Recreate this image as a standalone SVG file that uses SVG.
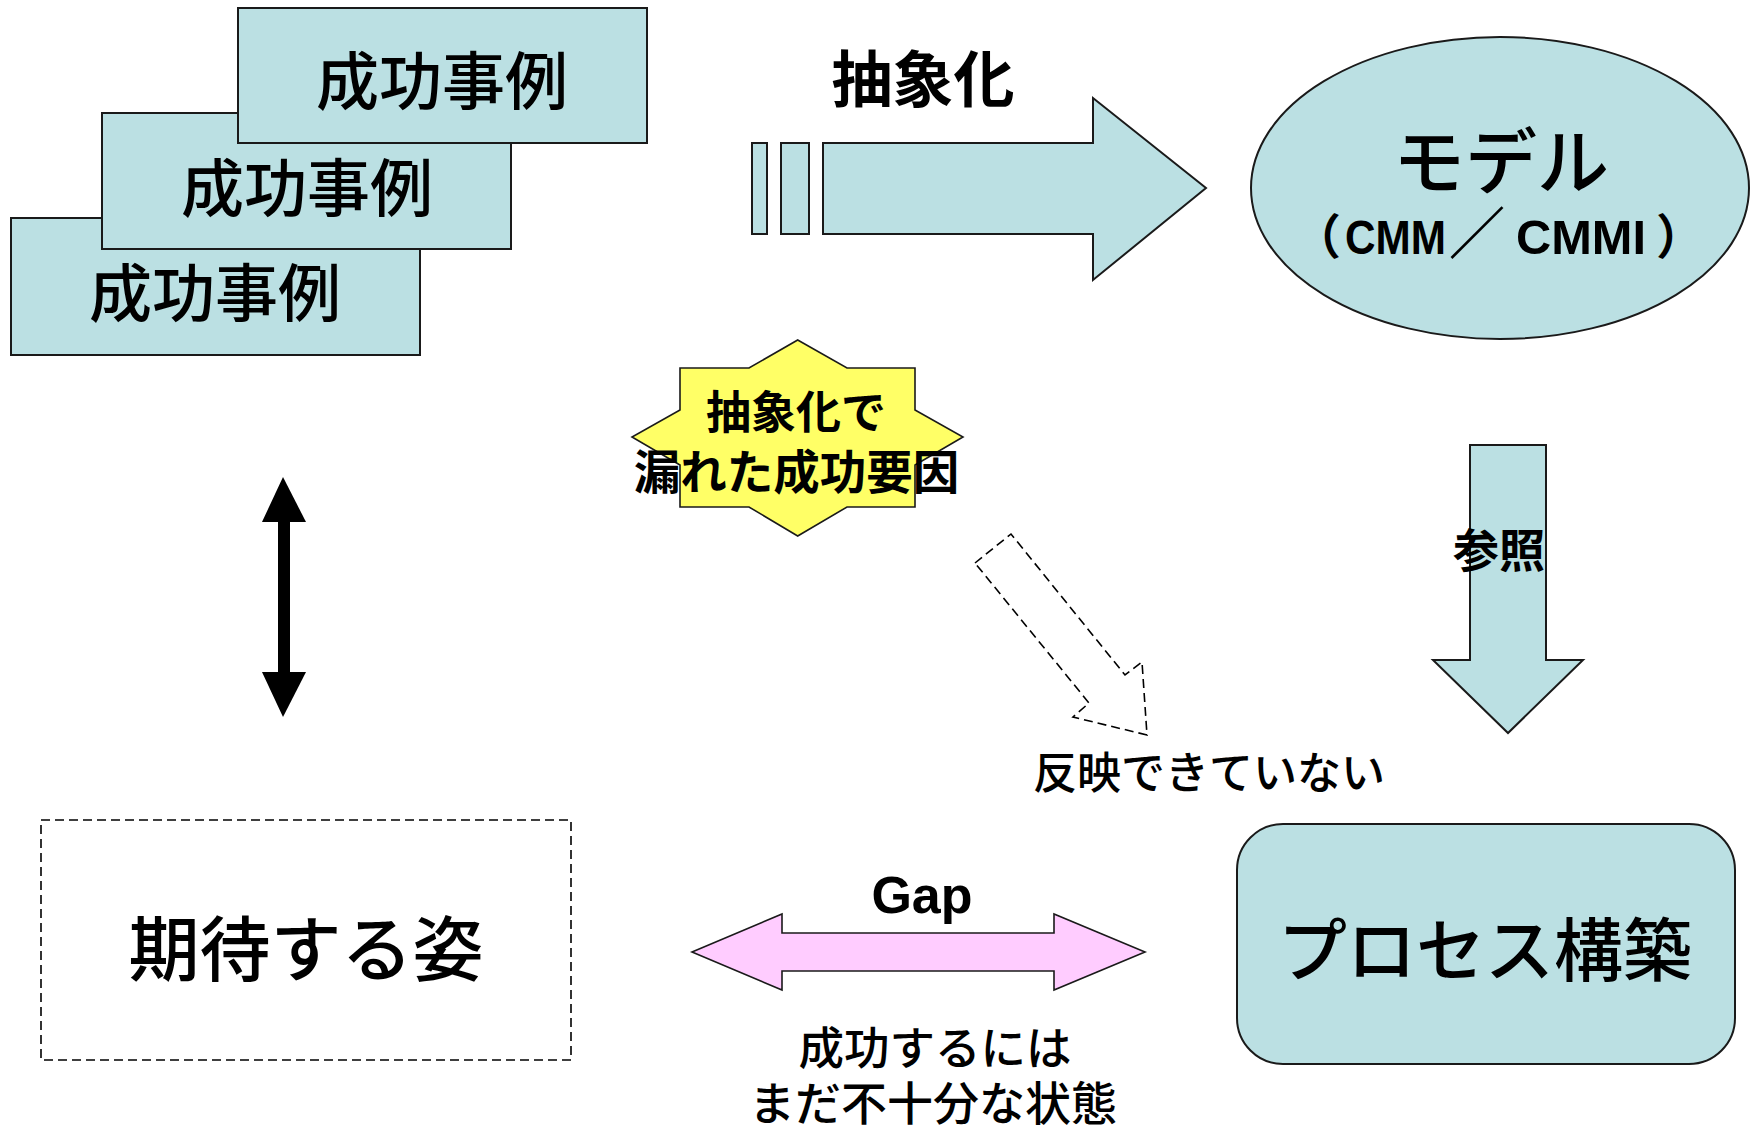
<svg xmlns="http://www.w3.org/2000/svg" width="1756" height="1128" viewBox="0 0 1756 1128">
<defs>
<style>
.blue{fill:#BBE0E3;stroke:#1a1a1a;stroke-width:2}
.jp{font-family:"Noto Sans CJK JP","Noto Sans CJK SC",sans-serif;fill:#000;text-anchor:middle}
.med{font-weight:500}
.bold{font-weight:700}
.lat{font-family:"Liberation Sans","Noto Sans CJK JP",sans-serif;font-weight:700;fill:#000;text-anchor:middle}
.cm{font-family:"Liberation Sans","Noto Sans CJK JP",sans-serif;font-weight:700;fill:#000;font-size:48px}
.dash{fill:none;stroke:#000;stroke-width:1.6;stroke-dasharray:9,5}
</style>
</defs>
<rect width="1756" height="1128" fill="#fff"/>

<g id="case3">
<rect class="blue" x="11" y="218" width="409" height="137"/>
<text class="jp med" x="215" y="316" font-size="63">成功事例</text>
</g>
<g id="case2">
<rect class="blue" x="102" y="113" width="409" height="136"/>
<text class="jp med" x="307" y="211" font-size="63">成功事例</text>
</g>
<g id="case1">
<rect class="blue" x="238" y="8" width="409" height="135"/>
<text class="jp med" x="442" y="104" font-size="63">成功事例</text>
</g>

<g id="model">
<ellipse class="blue" cx="1500" cy="188" rx="249" ry="151" stroke-width="1.6"/>
<text class="jp med" x="1501" y="188" font-size="72">モデル</text>
<text class="cm" y="254"><tspan x="1293">（</tspan><tspan x="1345" textLength="101" lengthAdjust="spacingAndGlyphs">CMM</tspan><tspan x="1449" font-size="56">／</tspan><tspan x="1516" textLength="130" lengthAdjust="spacingAndGlyphs">CMMI</tspan><tspan x="1656">）</tspan></text>
</g>

<g id="leak">
<polygon points="797.7,340 847,368 915,368 915,410 963,437 915,465 915,507 847,507 797.7,536 749,507 680,507 680,465 632,437 680,410 680,368 749,368" fill="#FFFF66" stroke="#1a1a1a" stroke-width="1.6"/>
<text class="jp bold" x="796" y="429" font-size="45">抽象化で</text>
<text class="jp bold" x="796.5" y="489" font-size="46.5">漏れた成功要因</text>
</g>

<g id="expected">
<rect class="dash" x="41" y="820" width="530" height="240"/>
<text class="jp med" x="306" y="975" font-size="71">期待する姿</text>
</g>

<g id="process">
<rect class="blue" x="1237" y="824" width="498" height="240" rx="46" ry="46"/>
<text class="jp med" x="1485" y="976" font-size="69">プロセス構築</text>
</g>

<g id="connectors">
<g id="abstract-arrow">
<rect class="blue" x="752" y="143" width="15" height="91"/>
<rect class="blue" x="781" y="143" width="28" height="91"/>
<polygon class="blue" points="823,143 1093,143 1093,98 1206,188 1093,280 1093,234 823,234"/>
<text class="jp bold" x="923" y="102" font-size="61">抽象化</text>
</g>
<g id="ref-arrow">
<polygon class="blue" points="1470,445 1546,445 1546,660 1583,660 1508,733 1433,660 1470,660"/>
<text class="jp bold" x="1499" y="567" font-size="46">参照</text>
</g>
<g id="not-reflected">
<polygon class="dash" points="975,563 1011,534 1125,675 1142,662 1147,735 1073,717 1089,703"/>
<text class="jp med" x="1209" y="789" font-size="44">反映できていない</text>
</g>
<g id="compare-arrow">
<line x1="284" y1="515" x2="284" y2="680" stroke="#000" stroke-width="12"/>
<polygon points="283,477 306,522 262,522" fill="#000"/>
<polygon points="283,717 306,672 262,672" fill="#000"/>
</g>
<g id="gap-arrow">
<polygon points="692,952 782,914 782,933 1054,933 1054,914 1145,952 1054,990 1054,971 782,971 782,990" fill="#FFCCFF" stroke="#1a1a1a" stroke-width="1.6"/>
<text class="lat" x="922" y="913" font-size="52">Gap</text>
<text class="jp med" x="935" y="1065" font-size="45.5">成功するには</text>
<text class="jp med" x="933" y="1120" font-size="46">まだ不十分な状態</text>
</g>
</g>
</svg>
